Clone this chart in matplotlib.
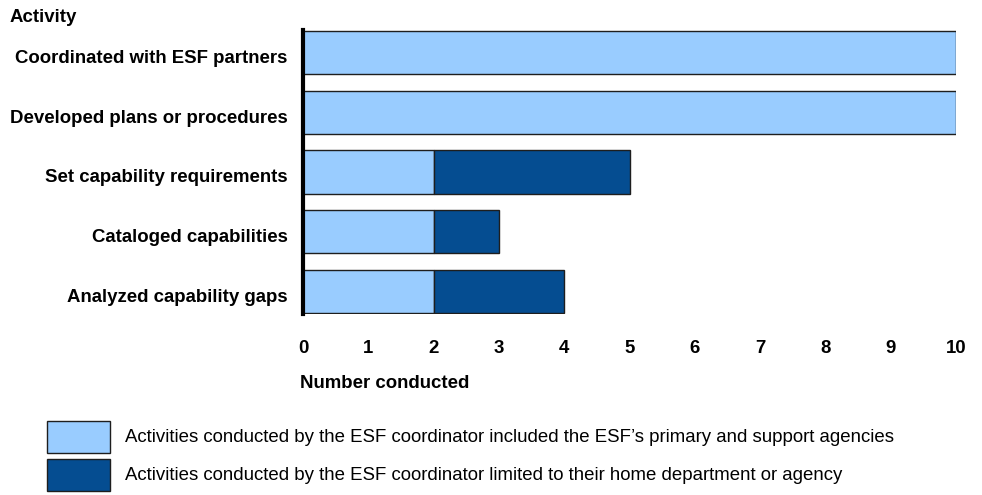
import matplotlib
matplotlib.use("Agg")
import matplotlib.pyplot as plt
from matplotlib.patches import Rectangle
from matplotlib.transforms import ScaledTranslation

plt.rcParams["font.family"] = ["Liberation Sans", "DejaVu Sans"]

LIGHT = "#99CCFF"
DARK = "#054D91"
EDGE = "#1E1E1E"
FS = 13.4

activities = [
    "Coordinated with ESF partners",
    "Developed plans or procedures",
    "Set capability requirements",
    "Cataloged capabilities",
    "Analyzed capability gaps",
]
primary_support = [10, 10, 2, 2, 2]
home_only = [0, 0, 3, 1, 2]
x_ticks = list(range(0, 11))
legend_labels = [
    "Activities conducted by the ESF coordinator included the ESF\u2019s primary and support agencies",
    "Activities conducted by the ESF coordinator limited to their home department or agency",
]

W, H = 982, 495
fig = plt.figure(figsize=(W / 100, H / 100), dpi=100)
ax = fig.add_axes([303 / W, 1 - 314 / H, (956 - 303) / W, (314 - 30) / H])

ypos = list(range(len(activities)))
ax.barh(ypos, primary_support, height=0.72, color=LIGHT, edgecolor=EDGE, linewidth=1)
ax.barh(ypos, home_only, left=primary_support, height=0.72, color=DARK,
        edgecolor=EDGE, linewidth=[1 if v else 0 for v in home_only])

ax.set_ylim(len(activities) - 0.63, -0.37)
ax.set_xlim(0, 10)
ax.set_xticks(x_ticks)
ax.set_yticks(ypos)
ax.set_yticklabels(activities, fontsize=FS, fontweight="bold")
ax.set_xticklabels([str(t) for t in x_ticks], fontsize=FS, fontweight="bold")
ax.tick_params(axis="both", length=0)
ax.tick_params(axis="x", pad=19)
ax.tick_params(axis="y", pad=11)
shift = ScaledTranslation(0, -4 / 100, fig.dpi_scale_trans)
for lab in ax.get_yticklabels():
    lab.set_transform(lab.get_transform() + shift)
for s in ["top", "right", "bottom"]:
    ax.spines[s].set_visible(False)
ax.spines["left"].set_linewidth(3)
ax.spines["left"].set_color("black")

fig.text(10 / W, 1 - 17 / H, "Activity", fontsize=FS, fontweight="bold", va="center", ha="left")
fig.text(300 / W, 1 - 383 / H, "Number conducted", fontsize=FS, fontweight="bold", va="center", ha="left")

for i, (col, lab) in enumerate(zip([LIGHT, DARK], legend_labels)):
    y0 = 421 + i * 38
    fig.patches.append(Rectangle((47 / W, 1 - (y0 + 32) / H), 63 / W, 32 / H,
                                 transform=fig.transFigure, facecolor=col,
                                 edgecolor=EDGE, linewidth=1))
    fig.text(125 / W, 1 - (y0 + 16) / H, lab, fontsize=FS, va="center", ha="left")

fig.savefig("out.png", dpi=100)
